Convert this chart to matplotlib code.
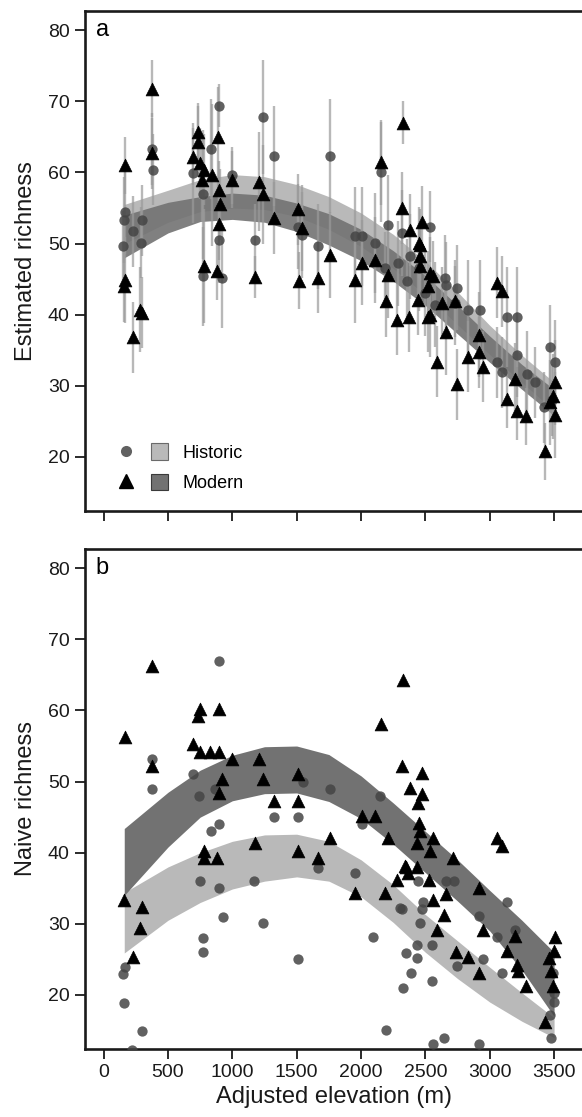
import matplotlib
matplotlib.use("Agg")
import matplotlib.pyplot as plt
import numpy as np
from matplotlib.lines import Line2D
from matplotlib.patches import Patch
from matplotlib.legend_handler import HandlerTuple

plt.rcParams['font.family'] = ['Liberation Sans', 'DejaVu Sans']

# ============================================================
# Panel a: estimated richness (value +/- error) per site
# ============================================================
hist_a_x = [153, 161, 168, 231, 293, 301, 378, 386, 697, 774, 836, 898,
            1000, 898, 774, 922, 1178, 1240, 1325, 1512, 1543, 1667, 1760, 1954,
            2008, 2109, 2155, 2210, 2318, 2536, 2287, 2380, 2187, 2652, 2745, 2660,
            2357, 2830, 2925, 3135, 3212, 3468, 3507, 3212, 3057, 3096, 3290, 2730,
            2575, 3480, 3420, 2500, 2450, 3350]
hist_a_y = [49.6, 53.3, 54.5, 51.7, 50.1, 53.3, 63.3, 60.4, 59.9, 56.9, 63.3, 69.4,
            59.6, 50.5, 45.4, 45.2, 50.5, 67.8, 62.3, 52.4, 51.2, 49.6, 62.3, 51.0,
            51.0, 50.1, 60.1, 52.6, 51.5, 52.4, 47.2, 48.2, 46.6, 45.2, 43.8, 44.2,
            44.7, 40.7, 40.7, 39.7, 39.7, 35.4, 33.3, 34.4, 33.3, 31.9, 31.7, 41.7,
            41.4, 28.0, 27.0, 43.0, 46.5, 30.5]
hist_a_err = [5, 6, 6, 5, 5, 5, 5, 5, 7, 9, 7, 3,
              4, 6, 7, 7, 5, 8, 7, 6, 6, 6, 8, 7,
              7, 7, 7, 7, 6, 5, 6, 6, 5, 6, 6, 6,
              6, 7, 7, 7, 7, 6, 6, 6, 5, 5, 6, 6,
              6, 5, 5, 6, 6, 5]

mod_a_x = [168, 378, 378, 736, 736, 697, 752, 776, 844, 766, 891, 898,
           906, 898, 1000, 1209, 1240, 1325, 1512, 783, 883, 1178, 1520,
           168, 161, 231, 285, 301,
           2326, 2155, 1543, 1760, 2008, 2109, 2318, 2380, 2474, 2459, 2210, 1667,
           1954, 2197, 2280, 2372, 2536, 2660, 2590, 2745, 2830, 2917, 2948, 2917,
           3057, 3096, 3135, 3197, 3212, 3282, 3430, 3507, 3491, 3507, 3468,
           2450, 2459, 2459, 2520, 2536, 2560, 2442, 2520, 2730, 2629]
mod_a_y = [61.0, 71.8, 62.7, 65.7, 64.3, 62.2, 61.3, 60.4, 59.6, 59.0, 65.0, 57.6,
           55.5, 52.7, 59.0, 58.7, 56.9, 53.6, 54.8, 46.8, 46.1, 45.3, 44.8,
           44.9, 44.0, 36.8, 40.7, 40.3,
           67.0, 61.4, 52.2, 48.4, 47.3, 47.7, 55.0, 51.9, 53.1, 49.8, 45.6, 45.2,
           44.9, 41.9, 39.3, 39.7, 40.0, 37.5, 33.4, 30.2, 34.1, 34.7, 32.7, 37.2,
           44.5, 43.3, 28.1, 31.0, 26.4, 25.7, 20.8, 30.5, 28.5, 25.9, 27.7,
           50.1, 48.2, 46.8, 44.0, 45.9, 45.4, 42.1, 39.7, 41.9, 41.7]
mod_a_err = [4, 4, 5, 4, 5, 4, 5, 5, 10, 6, 7, 4,
             5, 5, 4, 7, 7, 5, 5, 8, 4, 3, 4,
             6, 5, 5, 6, 5,
             3, 6, 6, 6, 6, 6, 5, 5, 5, 5, 6, 5,
             6, 5, 5, 5, 6, 6, 5, 5, 5, 5, 5, 6,
             5, 5, 4, 5, 4, 4, 4, 6, 6, 6, 6,
             5, 5, 5, 5, 5, 5, 5, 5, 5, 5]

# fitted confidence bands (lower / upper)
band_x = [160, 500, 750, 1000, 1250, 1500, 1750, 2000, 2250, 2500, 2750, 3000, 3250, 3500]
hist_a_lo = [50.0, 53.0, 54.5, 55.0, 54.8, 53.8, 52.0, 49.6, 46.5, 42.8, 38.6, 34.4, 30.5, 26.5]
hist_a_hi = [55.5, 57.5, 59.0, 59.7, 59.4, 58.3, 56.6, 54.3, 51.3, 47.5, 43.2, 38.5, 34.3, 30.5]
mod_a_lo = [48.0, 51.5, 53.1, 53.4, 53.0, 51.7, 49.8, 47.6, 44.7, 41.3, 37.3, 33.3, 29.5, 25.8]
mod_a_hi = [54.0, 55.8, 56.6, 57.1, 56.8, 55.7, 54.2, 52.0, 49.0, 45.5, 41.3, 37.0, 33.0, 29.5]

# ============================================================
# Panel b: naive richness per site
# ============================================================
hist_b_x = [898, 378, 378, 697, 744, 868, 898, 836, 1325, 1512,
            751, 898, 929, 1170, 1240, 774, 774, 1512, 168, 153, 161, 301, 223,
            1551, 1760, 2148, 2008, 1667, 1954, 2304, 2096,
            2194, 2318, 2474, 2459, 2349, 2435, 2435, 2388, 2326, 2551, 2551, 2443,
            2482, 2660, 2722, 2917, 3135, 3057, 3197, 2948, 2745, 3096, 2560, 2645,
            2917, 3476, 3500, 3491, 3500, 3468]
hist_b_y = [66.9, 53.2, 49.0, 51.1, 48.0, 49.0, 44.1, 43.0, 45.0, 45.0,
            36.0, 35.0, 31.0, 36.0, 30.1, 28.0, 26.0, 25.0, 23.9, 23.0, 18.9, 15.0, 12.3,
            49.9, 49.0, 48.0, 44.1, 37.9, 37.1, 32.2, 28.1,
            15.1, 32.1, 32.1, 30.1, 25.9, 27.0, 25.2, 23.1, 21.0, 27.0, 22.0, 36.0,
            33.0, 36.0, 36.0, 31.1, 33.0, 28.1, 29.1, 25.0, 24.0, 23.1, 13.1, 14.0,
            13.1, 14.0, 19.0, 23.1, 20.3, 17.2]

mod_b_x = [168, 378, 378, 752, 736, 697, 752, 829, 898, 898, 1000, 922, 898,
           1209, 1240, 1325, 1512, 1512,
           161, 231, 301, 285, 783, 776, 883, 1178, 1512,
           1667, 1760, 2008, 2109, 2210, 1954, 2187,
           2326, 2155, 2318, 2474, 2380, 2474, 2443,
           2280, 2349, 2365, 2435, 2529, 2560, 2645, 2590, 2660, 2738, 2830, 2917,
           2917, 2948, 3057, 3096, 3135, 3197, 3212, 3220, 3282, 3430, 3507, 3500,
           3460, 3476, 3491,
           2450, 2459, 2560, 2435, 2536, 2714, 2342]
mod_b_y = [56.2, 66.2, 52.2, 60.2, 59.2, 55.3, 54.1, 54.1, 54.1, 60.2, 53.2, 50.4, 48.4,
           53.2, 50.4, 47.3, 51.1, 47.2,
           33.3, 25.3, 32.3, 29.4, 40.2, 39.3, 39.3, 41.3, 40.2,
           39.3, 42.1, 45.2, 45.2, 42.1, 34.3, 34.3,
           64.3, 58.1, 52.2, 51.2, 49.1, 48.3, 47.0,
           36.1, 38.0, 37.1, 38.0, 36.1, 33.3, 31.2, 29.1, 34.2, 26.0, 25.3, 23.1,
           35.1, 29.1, 42.1, 41.0, 26.2, 28.3, 24.2, 23.3, 21.2, 16.2, 28.1, 26.2,
           25.2, 23.3, 21.2,
           44.2, 43.1, 42.1, 41.3, 40.3, 39.2, 38.2]

hist_b_lo = [25.9, 30.5, 33.0, 34.9, 36.0, 36.6, 36.0, 33.8, 30.2, 26.0, 22.3, 19.0, 16.3, 14.0]
hist_b_hi = [34.4, 38.0, 40.0, 41.6, 42.5, 42.6, 41.6, 39.0, 35.5, 31.3, 27.6, 23.9, 20.3, 16.8]
mod_b_lo = [34.0, 40.8, 45.0, 47.3, 48.3, 48.4, 47.2, 44.8, 41.2, 37.2, 33.2, 29.0, 23.5, 17.0]
mod_b_hi = [43.4, 48.5, 51.6, 53.7, 54.9, 55.0, 53.8, 50.8, 47.0, 43.0, 39.0, 34.7, 30.5, 26.0]

x_ticks = [0, 500, 1000, 1500, 2000, 2500, 3000, 3500]
y_ticks = [20, 30, 40, 50, 60, 70, 80]

# colours
LIGHT = '#b9b9b9'
DARK = '#727272'
CIRC = '#454545'
BAR = '#9a9a9a'

fig = plt.figure(figsize=(5.82, 11.17), dpi=100)
W, H = 582.0, 1117.0
ax_a = fig.add_axes([85 / W, 1 - 511 / H, (W - 85) / W, 500 / H])
ax_b = fig.add_axes([85 / W, 1 - 1049 / H, (W - 85) / W, 500 / H])


def style_axes(ax):
    ax.set_xlim(-145, 3717)
    ax.set_ylim(12.4, 82.7)
    ax.set_xticks(x_ticks)
    ax.set_yticks(y_ticks)
    for side in ['left', 'top', 'bottom']:
        ax.spines[side].set_linewidth(1.9)
        ax.spines[side].set_color('#1a1a1a')
    ax.spines['right'].set_visible(False)
    ax.tick_params(direction='out', length=7, width=1.3, color='#1a1a1a',
                   labelsize=14, pad=4, labelcolor='#1a1a1a')


# ---- panel a ----
ax = ax_a
ax.fill_between(band_x, hist_a_lo, hist_a_hi, color=LIGHT, lw=0, zorder=1)
ax.fill_between(band_x, mod_a_lo, mod_a_hi, color=DARK, lw=0, alpha=0.9, zorder=1.5)

ha_x = np.array(hist_a_x)
ha_y = np.array(hist_a_y)
ha_e = np.array(hist_a_err)
ma_x = np.array(mod_a_x)
ma_y = np.array(mod_a_y)
ma_e = np.array(mod_a_err)
ax.vlines(ha_x, ha_y - ha_e, ha_y + ha_e, color=BAR, lw=1.7, alpha=0.7, zorder=2)
ax.vlines(ma_x, ma_y - ma_e, ma_y + ma_e, color=BAR, lw=1.7, alpha=0.7, zorder=2)
ax.scatter(ha_x, ha_y, s=55, marker='o', color=CIRC, alpha=0.85, lw=0, zorder=3)
ax.scatter(ma_x, ma_y, s=85, marker='^', color='black', edgecolor='black', lw=0.5, zorder=4)

style_axes(ax)
ax.tick_params(axis='x', labelbottom=False)
ax.set_ylabel('Estimated richness', fontsize=17, color='#1a1a1a')
ax.yaxis.set_label_coords(-0.097, 0.5)
ax.text(0.022, 0.985, 'a', transform=ax.transAxes, fontsize=17, va='top', ha='left')

h_hist = (Line2D([], [], marker='o', ls='', color=CIRC, alpha=0.85, ms=8, mew=0),
          Patch(facecolor=LIGHT, edgecolor='#6a6a6a', lw=0.8))
h_mod = (Line2D([], [], marker='^', ls='', color='black', ms=10),
         Patch(facecolor=DARK, edgecolor='#3a3a3a', lw=0.8))
ax.legend([h_hist, h_mod], ['Historic', 'Modern'],
          handler_map={tuple: HandlerTuple(ndivide=None, pad=0.9)},
          loc='lower left', bbox_to_anchor=(0.065, 0.038), frameon=False,
          fontsize=13, handlelength=2.8, handleheight=1.0, labelspacing=0.67,
          handletextpad=0.8, borderpad=0, borderaxespad=0)

# ---- panel b ----
ax = ax_b
ax.fill_between(band_x, hist_b_lo, hist_b_hi, color=LIGHT, lw=0, zorder=1)
ax.fill_between(band_x, mod_b_lo, mod_b_hi, color=DARK, lw=0, zorder=1.5)
ax.scatter(hist_b_x, hist_b_y, s=55, marker='o', color=CIRC, alpha=0.85, lw=0, zorder=3)
ax.scatter(mod_b_x, mod_b_y, s=85, marker='^', color='black', edgecolor='black', lw=0.5, zorder=4)

style_axes(ax)
ax.set_ylabel('Naive richness', fontsize=17, color='#1a1a1a')
ax.yaxis.set_label_coords(-0.097, 0.5)
ax.set_xlabel('Adjusted elevation (m)', fontsize=17, color='#1a1a1a')
ax.xaxis.set_label_coords(0.5, -0.075)
ax.text(0.022, 0.985, 'b', transform=ax.transAxes, fontsize=17, va='top', ha='left')

fig.savefig('out.png', dpi=100)
